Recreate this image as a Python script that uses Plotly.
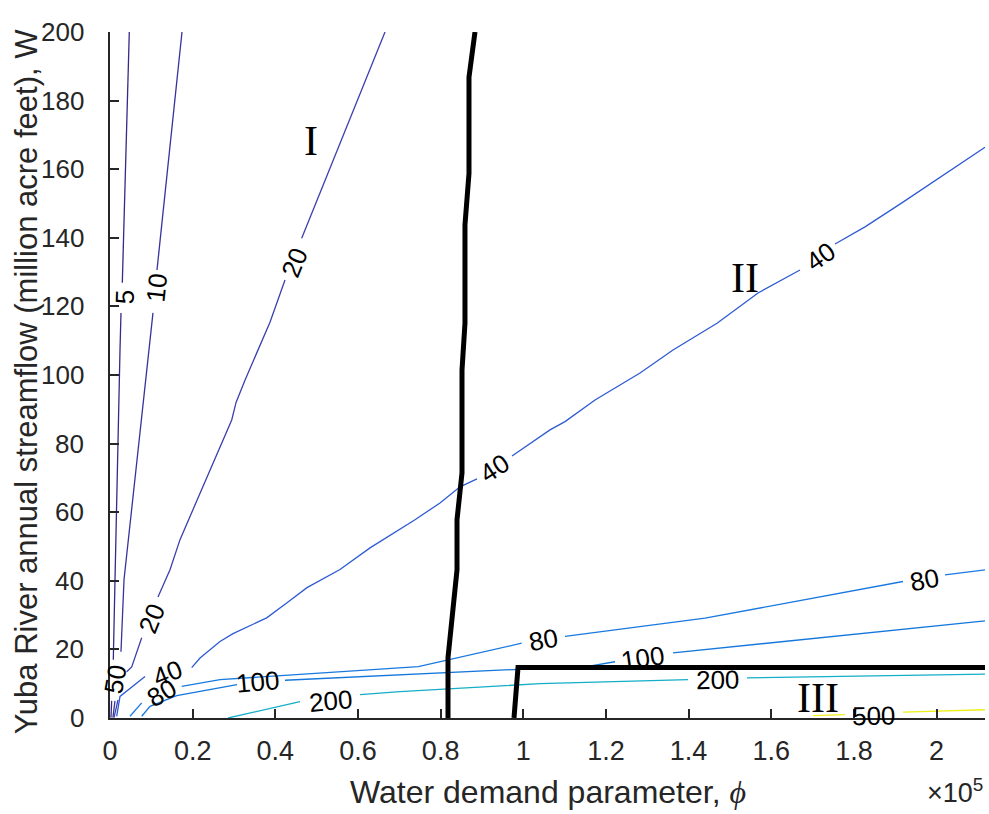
import plotly.graph_objects as go

# ---------------- data (x = water demand parameter phi in units of 1e5, y = streamflow W) ----------------
levels = [5, 10, 20, 40, 80, 100, 200, 500]
level_colors = ["#352a87", "#38339c", "#3a40ad", "#2f5bd3", "#1a79e0", "#1577dc", "#14aec8", "#eeee18"]

c5_x = [0.0467, 0.0298, None, 0.0266, 0.0242, 0.0121, 0.0080, None, 0.0040, 0.0024]
c5_y = [200, 126.9, None, 118.1, 107.3, 40.3, 17.0, None, 5.0, 0.1]

c10_x = [0.1742, 0.1137, None, 0.1040, 0.0944, 0.0460, 0.0339, 0.0266, None, 0.0120, 0.0070]
c10_y = [200, 130.6, None, 118.1, 107.3, 52.0, 40.3, 19.3, None, 5.0, 0.1]

c20_x = [0.6654, 0.4638, None, 0.4234, 0.3871, 0.3266, 0.3050, 0.2945, 0.2178, 0.1694, 0.1452, 0.1161,
         None, 0.0767, 0.0525, 0.0404, None, 0.0194, 0.0097]
c20_y = [200, 139.9, None, 127.7, 115.4, 98.5, 92.0, 86.9, 65.6, 52.0, 43.2, 35.3,
         None, 23.4, 14.9, 13.5, None, 5.3, 0.1]

c40_x = [0.0162, 0.0242, 0.0847, None, 0.1977, 0.2178, 0.2420, 0.2662, 0.2976, 0.3791, 0.4283, 0.4766,
         0.5565, 0.6291, 0.7380, 0.7984, 0.8469, 0.8880, None, 0.9727, 1.0646, 1.1009, 1.1735, 1.2824,
         1.3622, 1.4687, 1.5679, 1.6695, None, 1.7542, 1.8268, 1.9187, 2.0082, 2.1171]
c40_y = [0.5, 6.3, 12.1, None, 14.7, 17.5, 19.9, 22.3, 24.6, 29.2, 33.6, 38.0,
         43.3, 49.6, 57.8, 62.7, 67.4, 69.7, None, 76.4, 84.0, 86.4, 92.7, 100.6,
         107.3, 115.1, 123.9, 130.6, None, 138.2, 143.2, 150.4, 157.7, 166.4]

c80_x = [0.0484, 0.0767, None, 0.1735, 0.2662, 0.4597, 0.7460, 0.9961, None, 1.1009, 1.4397, 1.9187,
         None, 2.0203, 2.1171]
c80_y = [0.5, 4.4, None, 9.2, 11.2, 12.7, 15.0, 21.8, None, 23.8, 29.1, 39.8,
         None, 41.7, 43.2]

c100_x = [0.0767, 0.0968, 0.1614, 0.2662, 0.3073, None, 0.4234, 0.7452, 1.0404, 1.1493, 1.2219,
          None, 1.3622, 2.1171]
c100_y = [0.5, 3.4, 6.5, 8.8, 9.7, None, 11.0, 12.9, 14.5, 14.9, 16.4,
          None, 19.0, 28.3]

c200_x = [0.2855, 0.4597, None, 0.6049, 0.7017, 1.0404, 1.3985, None, 1.5413, 2.1171]
c200_y = [0.0, 4.8, None, 6.8, 7.7, 10.0, 11.2, None, 11.7, 12.8]

c500_x = [1.7010, 1.7784, None, 1.9187, 2.1171]
c500_y = [0.7, 1.0, None, 1.7, 2.4]

contour_x = [c5_x, c10_x, c20_x, c40_x, c80_x, c100_x, c200_x, c500_x]
contour_y = [c5_y, c10_y, c20_y, c40_y, c80_y, c100_y, c200_y, c500_y]

# contour labels: text, x, y, angle
label_text = ["5", "10", "20", "20", "50", "40", "40", "40", "80", "80", "80",
              "100", "100", "200", "200", "500"]
label_x = [0.0363, 0.1137, 0.4476, 0.1016, 0.0121, 0.1403, 0.9315, 1.7179, 0.1251, 1.0477, 1.9695,
           0.3557, 1.2896, 0.5347, 1.4687, 1.8461]
label_y = [122.7, 125.6, 132.9, 29.2, 11.2, 13.2, 72.9, 134.5, 7.4, 22.8, 40.3,
           10.6, 17.6, 5.0, 11.2, 0.7]
label_angle = [-88, -84, -68, -68, -80, -22, -33, -35, -30, -10, -11,
               -5, -8, -5, -1, -1]

# regime boundaries
b1_x = [0.8831, 0.8686, 0.8686, 0.8589, 0.8589, 0.8517, 0.8517, 0.8396, 0.8396, 0.8178, 0.8178]
b1_y = [200, 186.8, 158.8, 143.8, 115.1, 101.4, 71.5, 57.8, 43.2, 17.6, 0]
b2_x = [0.9775, 0.9872, 2.1171]
b2_y = [0, 14.7, 14.7]

region_text = ["I", "II", "III"]
region_x = [0.4863, 1.5364, 1.7131]
region_y = [168.3, 128.3, 5.9]

x_ticks = [0, 0.2, 0.4, 0.6, 0.8, 1.0, 1.2, 1.4, 1.6, 1.8, 2.0]
x_tick_text = ["0", "0.2", "0.4", "0.6", "0.8", "1", "1.2", "1.4", "1.6", "1.8", "2"]
y_ticks = list(range(0, 201, 20))

SCALE = 1e5

def sc(vals):
    return [None if v is None else v * SCALE for v in vals]

fig = go.Figure()

for xs, ys, col, lev in zip(contour_x, contour_y, level_colors, levels):
    fig.add_trace(go.Scatter(x=sc(xs), y=ys, mode="lines", name=str(lev),
                             line=dict(color=col, width=1.3), connectgaps=False,
                             hoverinfo="skip", showlegend=False))

fig.add_trace(go.Scatter(x=sc(b1_x), y=b1_y, mode="lines", line=dict(color="black", width=5),
                         showlegend=False, hoverinfo="skip"))
fig.add_trace(go.Scatter(x=sc(b2_x), y=b2_y, mode="lines", line=dict(color="black", width=5),
                         showlegend=False, hoverinfo="skip"))

axis_col = "#262626"
annotations = []
for t, x, y, a in zip(label_text, label_x, label_y, label_angle):
    annotations.append(dict(x=x * SCALE, y=y, xref="x", yref="y", text=t, textangle=a,
                            showarrow=False, font=dict(family="Liberation Sans, Arial", size=26, color="black")))
for t, x, y in zip(region_text, region_x, region_y):
    annotations.append(dict(x=x * SCALE, y=y, xref="x", yref="y", text=t, showarrow=False,
                            font=dict(family="Liberation Serif, Times New Roman", size=42, color="black")))
# y tick labels (placed on the y scale)
for v in y_ticks:
    annotations.append(dict(x=-0.028, y=v, xref="paper", yref="y", text=str(v), xanchor="right",
                            yanchor="middle", showarrow=False,
                            font=dict(family="Liberation Sans, Arial", size=26, color=axis_col)))

annotations.append(dict(x=0.5, y=-0.108, xref="paper", yref="paper", xanchor="center", yanchor="middle",
                        text="Water demand parameter, <span style='font-family:Liberation Serif'><i>ϕ</i></span>",
                        showarrow=False, font=dict(family="Liberation Sans, Arial", size=32, color=axis_col)))
annotations.append(dict(x=-0.0945, y=0.49, xref="paper", yref="paper", xanchor="center", yanchor="middle",
                        text="Yuba River annual streamflow (million acre feet), W", textangle=-90,
                        showarrow=False, font=dict(family="Liberation Sans, Arial", size=31, color=axis_col)))
annotations.append(dict(x=1.0, y=-0.106, xref="paper", yref="paper", xanchor="right", yanchor="middle",
                        text="×10<sup>5</sup>", showarrow=False,
                        font=dict(family="Liberation Sans, Arial", size=27, color=axis_col)))

fig.update_layout(
    width=989, height=814,
    margin=dict(l=110, r=4, t=32, b=96),
    paper_bgcolor="white", plot_bgcolor="white",
    showlegend=False,
    annotations=annotations,
    xaxis=dict(range=[0, 2.1171 * SCALE], tickvals=[v * SCALE for v in x_ticks], ticktext=x_tick_text,
               showline=True, linecolor=axis_col, linewidth=1.5, ticks="inside", ticklen=9,
               tickwidth=1.5, tickcolor=axis_col, showgrid=False, zeroline=False, mirror=False,
               tickfont=dict(family="Liberation Sans, Arial", size=27, color=axis_col),
               ticklabelstandoff=8),
    yaxis=dict(range=[0, 200], tickvals=y_ticks, showticklabels=False,
               showline=True, linecolor=axis_col, linewidth=1.5, ticks="inside", ticklen=9,
               tickwidth=1.5, tickcolor=axis_col, showgrid=False, zeroline=False, mirror=False),
)

fig.write_html("out.html")
